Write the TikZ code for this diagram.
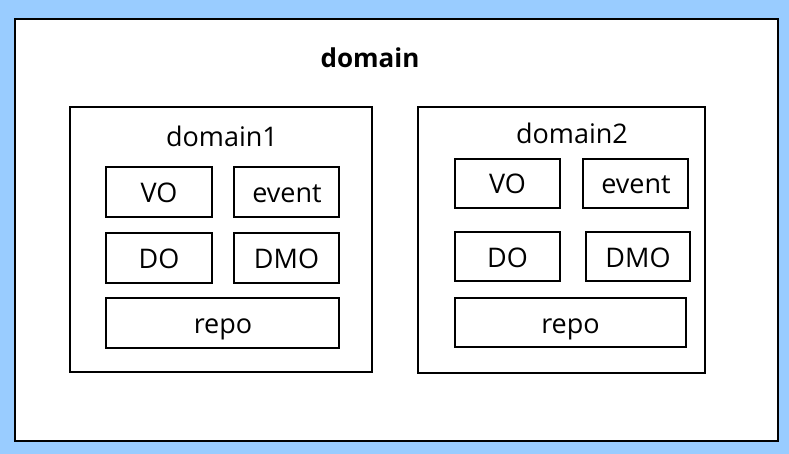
\documentclass[tikz,border=0pt]{standalone}
\usepackage{fontspec}
\setmainfont{Open Sans}
\definecolor{bgblue}{HTML}{99CCFF}
\begin{document}
\begin{tikzpicture}[x=1pt,y=-1pt,
  frame/.style={draw=black,line width=1.3pt,fill=white},
  title/.style={anchor=base,inner sep=0pt,font=\fontsize{27}{30}\selectfont}]
\fill[bgblue] (0,0) rectangle (789,454);
\useasboundingbox (0,0) rectangle (789,454);
\draw[line width=2pt,fill=white] (15,19) rectangle (778,441);
\node[anchor=base,inner sep=0pt,font=\bfseries\fontsize{26}{30}\selectfont] (dom) at (370,68) {domain};
% domain1
\draw[frame] (70,107) rectangle (372,372);
\node[title] (d1) at (222,147) {domain1};
\draw[frame] (106,167) rectangle (212,217); \node[title] (vo1) at (159,203) {VO};
\draw[frame] (234,167) rectangle (339,217); \node[title] (ev1) at (287,203) {event};
\draw[frame] (106,233) rectangle (212,283); \node[title] (do1) at (159,268) {DO};
\draw[frame] (234,233) rectangle (339,283); \node[title] (dmo1) at (286.5,268) {DMO};
\draw[frame] (106,298) rectangle (339,348); \node[title] (re1) at (223,333) {repo};
% domain2
\draw[frame] (418,107) rectangle (705,373);
\node[title] (d2) at (572,144) {domain2};
\draw[frame] (455,159) rectangle (560,208); \node[title] (vo2) at (507.5,194) {VO};
\draw[frame] (583,159) rectangle (688,208); \node[title] (ev2) at (636,194) {event};
\draw[frame] (455,232) rectangle (560,281); \node[title] (do2) at (507.5,267) {DO};
\draw[frame] (586,232) rectangle (690,281); \node[title] (dmo2) at (638,267) {DMO};
\draw[frame] (455,298) rectangle (686,347); \node[title] (re2) at (570.5,333) {repo};
\end{tikzpicture}
\end{document}
